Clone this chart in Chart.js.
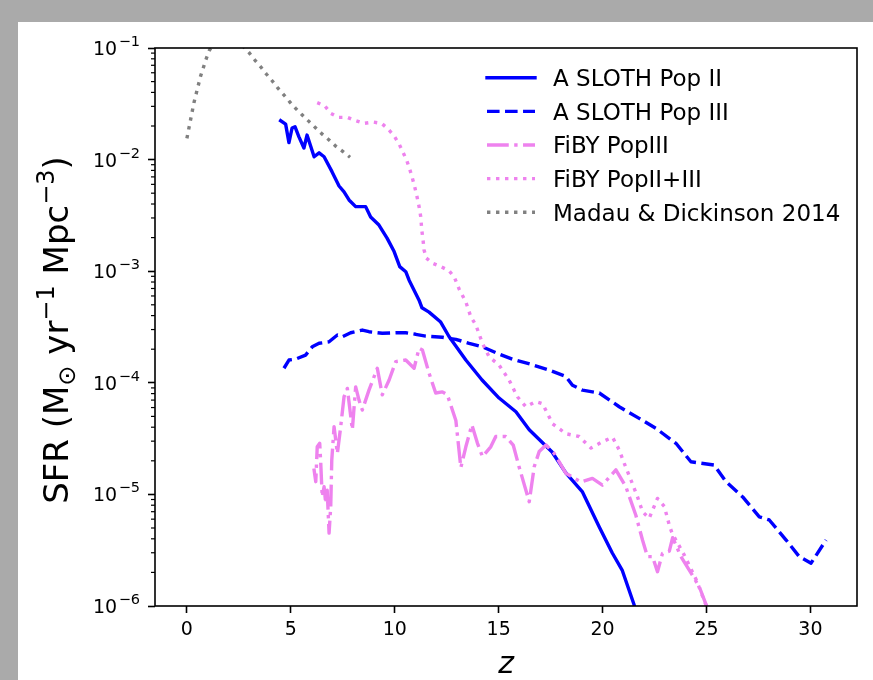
<!DOCTYPE html>
<html>
<head>
<meta charset="utf-8">
<script src="https://cdn.jsdelivr.net/npm/chart.js@4.4.1/dist/chart.umd.min.js"></script>
<style>
  html, body { margin: 0; padding: 0; background: #aaaaaa; width: 873px; height: 680px; overflow: hidden; }
  #frame { position: absolute; left: 18px; top: 22px; width: 855px; height: 658px; background: #ffffff; }
</style>
</head>
<body>
<div id="frame"><canvas id="sfr_chart" width="855" height="658"></canvas></div>
<script>
// redshift / SFR values
const slothPop2Z = [4.51, 4.75, 4.91, 5.06, 5.20, 5.39, 5.63, 5.78, 5.96, 6.12, 6.36, 6.60, 6.98, 7.32, 7.56, 7.80,
  8.12, 8.60, 8.84, 9.24, 9.63, 9.97, 10.24, 10.53, 10.69, 11.17, 11.31, 11.65, 12.21, 12.61, 13.42, 14.20,
  15.02, 15.83, 16.47, 17.57, 18.23, 19.02, 19.84, 20.46, 20.94, 21.52, 21.6];
const slothPop2Sfr = [0.0223, 0.0208, 0.0142, 0.0192, 0.0197, 0.0160, 0.0127, 0.0166, 0.0131, 0.0106, 0.0115, 0.0106,
  0.0078, 0.0058, 0.00515, 0.00435, 0.00379, 0.00379, 0.00306, 0.00259, 0.00198, 0.00150, 0.00110, 0.00099,
  0.00083, 5.5e-4, 4.7e-4, 4.3e-4, 3.5e-4, 2.6e-4, 1.6e-4, 1.06e-4, 7.3e-5, 5.5e-5, 3.8e-5, 2.4e-5, 1.56e-5,
  1.06e-5, 5.1e-6, 3.0e-6, 2.1e-6, 1.02e-6, 8.9e-7];

const slothPop3Z = [4.67, 4.91, 5.23, 5.71, 6.03, 6.36, 6.84, 7.24, 7.48, 7.88, 8.44, 8.76, 9.40, 10.05, 10.53, 11.01,
  11.49, 12.29, 12.94, 13.58, 14.22, 15.02, 15.66, 16.63, 17.43, 18.23, 18.55, 19.03, 19.84, 20.80, 21.76, 22.57,
  23.53, 24.25, 25.37, 25.94, 26.74, 27.54, 28.02, 28.83, 29.46, 30.03, 30.75];
const slothPop3Sfr = [1.35e-4, 1.6e-4, 1.63e-4, 1.77e-4, 2.1e-4, 2.26e-4, 2.33e-4, 2.68e-4, 2.59e-4, 2.81e-4, 2.97e-4,
  2.87e-4, 2.78e-4, 2.81e-4, 2.81e-4, 2.72e-4, 2.62e-4, 2.56e-4, 2.45e-4, 2.26e-4, 2.1e-4, 1.81e-4, 1.63e-4,
  1.45e-4, 1.30e-4, 1.14e-4, 9.5e-5, 8.6e-5, 8.1e-5, 6.1e-5, 4.8e-5, 3.9e-5, 2.87e-5, 1.96e-5, 1.83e-5, 1.30e-5,
  9.5e-6, 6.3e-6, 5.9e-6, 3.9e-6, 2.77e-6, 2.42e-6, 3.9e-6];

const fibyPop3Z = [6.11, 6.20, 6.27, 6.39, 6.44, 6.51, 6.60, 6.68, 6.75, 6.84, 6.92, 6.97, 7.08, 7.24, 7.40, 7.56, 7.72,
  7.96, 8.12, 8.28, 8.44, 8.76, 9.16, 9.40, 9.73, 10.05, 10.53, 10.93, 11.17, 11.33, 11.65, 11.97, 12.29, 12.53,
  12.94, 13.18, 13.42, 13.71, 13.98, 14.22, 14.62, 14.86, 15.34, 15.70, 15.98, 16.47, 16.71, 16.95, 17.28, 17.67,
  18.23, 18.96, 19.51, 19.99, 20.64, 21.12, 21.60, 21.92, 22.16, 22.40, 22.64, 22.88, 23.21, 23.37, 23.77, 24.17,
  24.65, 24.97, 25.08];
const fibyPop3Sfr = [1.71e-5, 1.30e-5, 2.67e-5, 2.87e-5, 1.90e-5, 9.5e-6, 1.17e-5, 8.3e-6, 1.09e-5, 4.5e-6, 7.8e-6,
  2.03e-5, 4.05e-5, 2.33e-5, 4.05e-5, 7.5e-5, 8.9e-5, 3.8e-5, 9.2e-5, 7.0e-5, 5.7e-5, 8.6e-5, 1.35e-4, 7.8e-5,
  1.06e-4, 1.55e-4, 1.60e-4, 1.35e-4, 2.04e-4, 1.97e-4, 1.22e-4, 8.1e-5, 8.3e-5, 7.8e-5, 4.6e-5, 1.74e-5, 2.67e-5,
  4.2e-5, 2.87e-5, 2.18e-5, 2.67e-5, 3.3e-5, 3.3e-5, 2.77e-5, 1.77e-5, 8.6e-6, 1.77e-5, 2.42e-5, 2.77e-5, 2.33e-5,
  1.55e-5, 1.29e-5, 1.39e-5, 1.21e-5, 1.66e-5, 1.17e-5, 6.5e-6, 3.9e-6, 2.77e-6, 2.77e-6, 2.03e-6, 2.96e-6, 3.1e-6,
  4.1e-6, 2.77e-6, 2.1e-6, 1.49e-6, 1.04e-6, 9.2e-7];

const fibyTotalZ = [6.27, 6.64, 6.92, 7.28, 7.72, 8.12, 8.52, 8.96, 9.37, 9.69, 9.97, 10.21, 10.40, 10.58, 10.72, 10.85,
  10.96, 11.07, 11.17, 11.25, 11.30, 11.36, 11.41, 11.52, 11.81, 12.21, 12.61, 12.86, 13.10, 13.42, 13.66, 13.90,
  14.22, 14.54, 15.02, 15.50, 15.90, 16.31, 16.79, 17.11, 17.59, 18.23, 18.87, 19.44, 19.99, 20.48, 20.80, 21.04,
  21.36, 21.68, 21.92, 22.24, 22.64, 22.97, 23.21, 23.34, 23.93, 24.51, 24.99, 25.1];
const fibyTotalSfr = [0.0324, 0.0302, 0.0260, 0.0239, 0.0239, 0.0223, 0.0211, 0.0217, 0.0211, 0.0187, 0.0163, 0.0138,
  0.0116, 0.0098, 0.0082, 0.0068, 0.0057, 0.00466, 0.00379, 0.00308, 0.00234, 0.00191, 0.00155, 0.00131, 0.00118,
  0.00110, 0.00101, 8.9e-4, 6.9e-4, 5.3e-4, 3.9e-4, 3.3e-4, 2.26e-4, 1.71e-4, 1.44e-4, 1.06e-4, 7.5e-5, 6.1e-5,
  6.8e-5, 6.5e-5, 4.3e-5, 3.5e-5, 3.3e-5, 2.6e-5, 2.96e-5, 3.25e-5, 2.5e-5, 1.9e-5, 1.35e-5, 9.5e-6, 7.0e-6,
  6.1e-6, 9.2e-6, 7.8e-6, 5.3e-6, 4.5e-6, 2.86e-6, 1.71e-6, 1.0e-6, 8.9e-7];

const madauZ = [0, 0.34, 0.66, 0.93, 1.09, 1.5, 2.0, 2.5, 2.99, 3.27, 3.55, 3.82, 4.11, 4.38, 4.67, 4.94, 5.23, 5.55,
  5.87, 6.20, 6.51, 6.84, 7.16, 7.51, 7.85];
const madauSfr = [0.0155, 0.0324, 0.0561, 0.0802, 0.096, 0.124, 0.132, 0.114, 0.0908, 0.078, 0.0679, 0.0585, 0.0506,
  0.0436, 0.0379, 0.0330, 0.0288, 0.0251, 0.0220, 0.0192, 0.0169, 0.0150, 0.0132, 0.0118, 0.0105];

const seriesLabels = ["A SLOTH Pop II", "A SLOTH Pop III", "FiBY PopIII", "FiBY PopII+III", "Madau & Dickinson 2014"];
const xTicks = [0, 5, 10, 15, 20, 25, 30];
const yDecades = [-6, -5, -4, -3, -2, -1];

const LW = 3.4;
const dashStyles = {
  solid: [],
  dashed: [3.7 * LW, 1.6 * LW],
  dotted: [1 * LW, 1.65 * LW],
  dashdot: [6.4 * LW, 1.6 * LW, 1 * LW, 1.6 * LW],
};
const seriesColors = ["#0000ff", "#0000ff", "#ee82ee", "#ee82ee", "#808080"];
const seriesDash = ["solid", "dashed", "dashdot", "dotted", "dotted"];

function toPoints(xs, ys) {
  return xs.map((x, i) => ({ x: x, y: ys[i] }));
}

function isDecade(v) {
  const l = Math.log10(v);
  return Math.abs(l - Math.round(l)) < 1e-6;
}

const FONT = '"DejaVu Sans", sans-serif';

const sfrDecorations = {
  id: "sfrDecorations",
  afterDraw(chart) {
    const ctx = chart.ctx;
    const area = chart.chartArea;
    const yScale = chart.scales.y;
    ctx.save();

    // axes box
    ctx.strokeStyle = "#000";
    ctx.lineWidth = 1.6;
    ctx.setLineDash([]);
    ctx.strokeRect(area.left, area.top, area.right - area.left, area.bottom - area.top);

    // minor ticks on log axis
    ctx.lineWidth = 1.2;
    yScale.ticks.forEach((t) => {
      if (isDecade(t.value)) return;
      const py = yScale.getPixelForValue(t.value);
      ctx.beginPath();
      ctx.moveTo(area.left - 4, py);
      ctx.lineTo(area.left, py);
      ctx.stroke();
    });

    // decade labels 10^n
    ctx.fillStyle = "#000";
    ctx.textAlign = "right";
    ctx.textBaseline = "alphabetic";
    yDecades.forEach((e) => {
      const py = yScale.getPixelForValue(Math.pow(10, e));
      const xr = area.left - 15;
      ctx.font = "14.5px " + FONT;
      const sup = "\u2212" + Math.abs(e);
      const supW = ctx.measureText(sup).width;
      ctx.fillText(sup, xr, py + 7 - 9);
      ctx.font = "19px " + FONT;
      ctx.fillText("10", xr - supW - 1.5, py + 7);
    });

    // x title
    ctx.textAlign = "center";
    ctx.font = "italic 30px " + FONT;
    ctx.fillText("z", (area.left + area.right) / 2, 651);

    // y title with sub/superscripts
    const parts = [
      { t: "SFR (M", s: 34, dy: 0 },
      { t: "\u2299", s: 24, dy: 7 },
      { t: " yr", s: 34, dy: 0 },
      { t: "\u22121", s: 24, dy: -14 },
      { t: " Mpc", s: 34, dy: 0 },
      { t: "\u22123", s: 24, dy: -14 },
      { t: ")", s: 34, dy: 0 },
    ];
    let total = 0;
    parts.forEach((p) => {
      ctx.font = p.s + "px " + FONT;
      p.w = ctx.measureText(p.t).width;
      total += p.w;
    });
    ctx.translate(38, (area.top + area.bottom) / 2 + 3);
    ctx.rotate(-Math.PI / 2);
    ctx.textAlign = "left";
    let cx = -total / 2;
    parts.forEach((p) => {
      ctx.font = p.s + "px " + FONT;
      ctx.fillText(p.t, cx, 12 + p.dy);
      cx += p.w;
    });
    ctx.setTransform(1, 0, 0, 1, 0, 0);

    // legend
    ctx.font = "23px " + FONT;
    ctx.textAlign = "left";
    ctx.lineWidth = LW;
    seriesLabels.forEach((lab, i) => {
      const ly = area.top + 29.8 + i * 33.6;
      ctx.strokeStyle = seriesColors[i];
      ctx.setLineDash(dashStyles[seriesDash[i]]);
      ctx.lineCap = seriesDash[i] === "solid" ? "square" : "butt";
      ctx.beginPath();
      ctx.moveTo(area.right - 370, ly);
      ctx.lineTo(area.right - 322, ly);
      ctx.stroke();
      ctx.setLineDash([]);
      ctx.fillStyle = "#000";
      ctx.fillText(lab, area.right - 304, ly + 8.4);
    });

    ctx.restore();
  },
};

const xs = [slothPop2Z, slothPop3Z, fibyPop3Z, fibyTotalZ, madauZ];
const ys = [slothPop2Sfr, slothPop3Sfr, fibyPop3Sfr, fibyTotalSfr, madauSfr];

const datasets = seriesLabels.map((lab, i) => ({
  label: lab,
  data: toPoints(xs[i], ys[i]),
  borderColor: seriesColors[i],
  backgroundColor: seriesColors[i],
  borderWidth: LW,
  borderDash: dashStyles[seriesDash[i]],
  borderCapStyle: seriesDash[i] === "solid" ? "square" : "butt",
  borderJoinStyle: "round",
  pointRadius: 0,
  tension: 0,
  fill: false,
  clip: 0,
  order: 10 - i,
}));

const ctxSfr = document.getElementById("sfr_chart").getContext("2d");
const sfrChart = new Chart(ctxSfr, {
  type: "line",
  data: { datasets: datasets },
  options: {
    responsive: false,
    animation: false,
    devicePixelRatio: 1,
    layout: { padding: { left: 0, right: 16, top: 26, bottom: 0 } },
    plugins: {
      legend: { display: false },
      tooltip: { enabled: false },
    },
    scales: {
      x: {
        type: "linear",
        min: -1.535,
        max: 32.24,
        afterBuildTicks: (scale) => {
          scale.ticks = xTicks.map((v) => ({ value: v }));
        },
        afterFit: (scale) => {
          scale.height = 74;
        },
        border: { display: false },
        grid: {
          display: true,
          drawOnChartArea: false,
          drawTicks: true,
          tickLength: 7,
          tickColor: "#000",
          tickWidth: 1.6,
        },
        ticks: {
          autoSkip: false,
          maxRotation: 0,
          padding: 6,
          color: "#000",
          font: { family: "DejaVu Sans", size: 19 },
          callback: (v) => String(v),
        },
      },
      y: {
        type: "logarithmic",
        min: 1e-6,
        max: 1e-1,
        afterBuildTicks: (scale) => {
          const t = [];
          for (let e = -6; e <= -2; e++) {
            for (let m = 1; m <= 9; m++) t.push({ value: m * Math.pow(10, e) });
          }
          t.push({ value: 0.1 });
          scale.ticks = t;
        },
        afterFit: (scale) => {
          scale.width = 137;
        },
        border: { display: false },
        grid: {
          display: true,
          drawOnChartArea: false,
          drawTicks: true,
          tickLength: 7,
          tickWidth: 1.6,
          tickColor: (c) => (c.tick && isDecade(c.tick.value) ? "#000" : "rgba(0,0,0,0)"),
        },
        ticks: {
          autoSkip: false,
          display: true,
          callback: () => "",
        },
      },
    },
  },
  plugins: [sfrDecorations],
});
</script>
</body>
</html>
